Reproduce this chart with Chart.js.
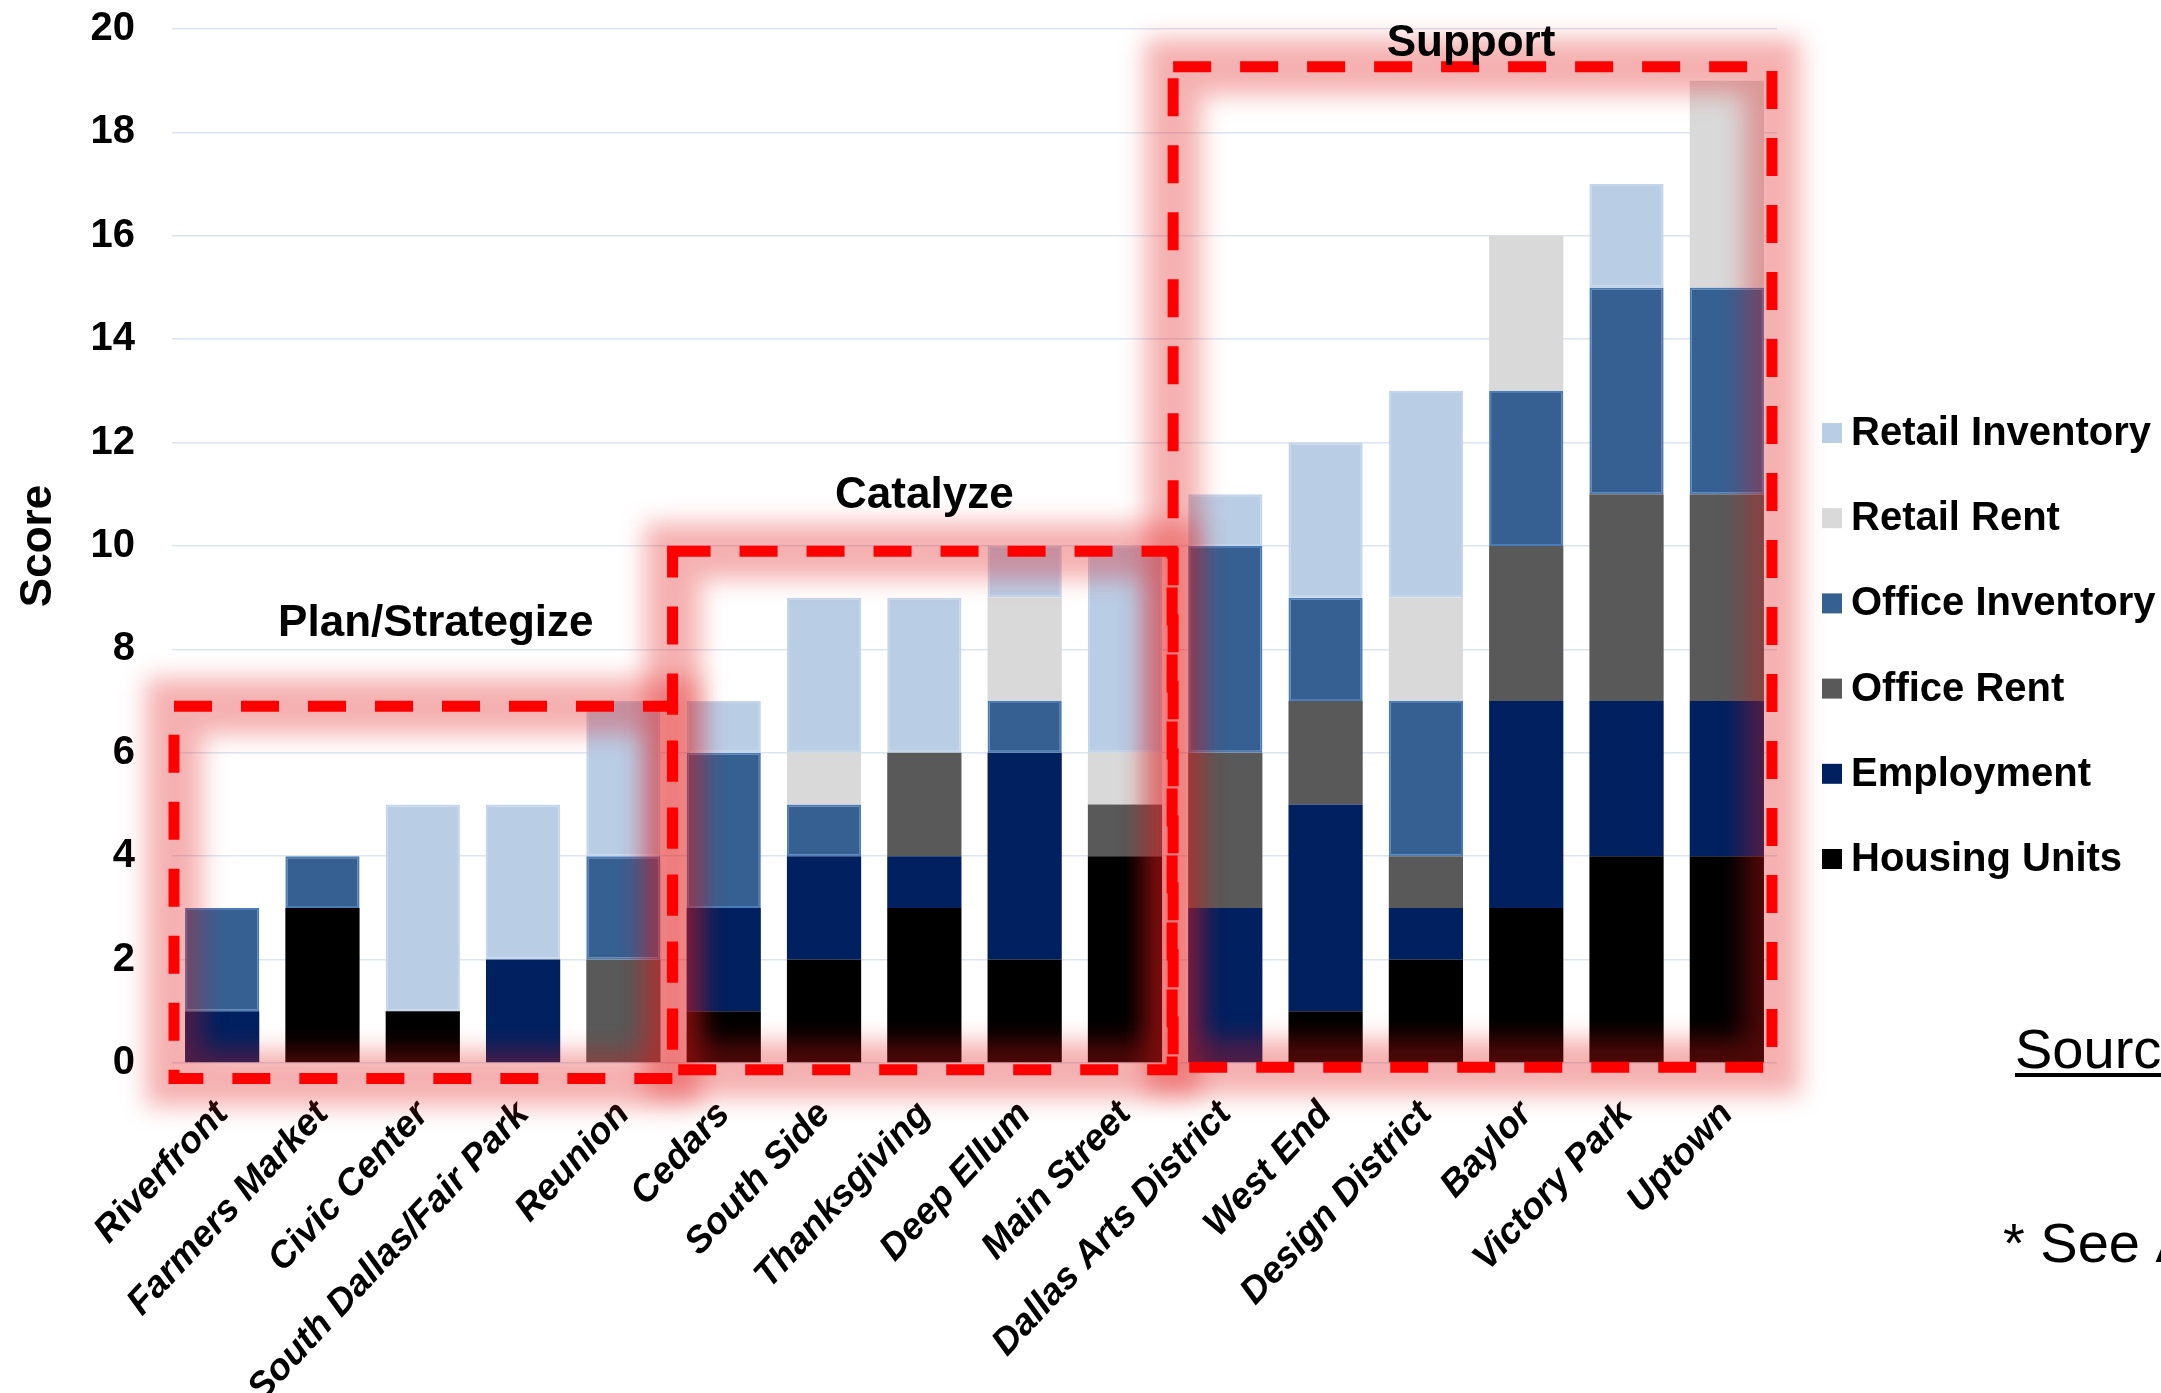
<!DOCTYPE html>
<html>
<head>
<meta charset="utf-8">
<title>District Scores</title>
<script src="https://cdn.jsdelivr.net/npm/chart.js@4/dist/chart.umd.min.js"></script>
<style>
  html, body { margin: 0; padding: 0; background: #fff; overflow: hidden; }
  #chart { display: block; }
</style>
</head>
<body>
<canvas id="chart" width="2161" height="1393"></canvas>
<script>
// District scores, stacked by indicator (bottom to top).
const districts = ['Riverfront', 'Farmers Market', 'Civic Center', 'South Dallas/Fair Park', 'Reunion',
  'Cedars', 'South Side', 'Thanksgiving', 'Deep Ellum', 'Main Street',
  'Dallas Arts District', 'West End', 'Design District', 'Baylor', 'Victory Park', 'Uptown'];
const housingUnits    = [0, 3, 1, 0, 0, 1, 2, 3, 2, 4, 0, 1, 2, 3, 4, 4];
const employment      = [1, 0, 0, 2, 0, 2, 2, 1, 4, 0, 3, 4, 1, 4, 3, 3];
const officeRent      = [0, 0, 0, 0, 2, 0, 0, 2, 0, 1, 3, 2, 1, 3, 4, 4];
const officeInventory = [2, 1, 0, 0, 2, 3, 1, 0, 1, 0, 4, 2, 3, 3, 4, 4];
const retailRent      = [0, 0, 0, 0, 0, 0, 1, 0, 2, 1, 0, 0, 2, 3, 0, 4];
const retailInventory = [0, 0, 4, 3, 3, 1, 3, 3, 1, 4, 1, 3, 4, 0, 2, 0];
const yTicks = [0, 2, 4, 6, 8, 10, 12, 14, 16, 18, 20];

// Strategy groups: first/last district index and the score the frame tops out at.
const groupNames = ['Plan/Strategize', 'Catalyze', 'Support'];
const groupFirst = [0, 5, 10];
const groupLast  = [4, 9, 15];
const groupTop   = [6.9, 9.9, 19.27];

const FONT = "'Liberation Sans', Arial, Helvetica, sans-serif";
Chart.defaults.font.family = FONT;
Chart.defaults.color = '#000';

const ds = (label, data, color, border) => ({
  label, data, backgroundColor: color, borderColor: border || color,
  borderWidth: border ? 2 : 0, borderSkipped: false,
  categoryPercentage: 1, barPercentage: 0.74,
});

// frame geometry in category / score units
const frames = [
  { l: groupFirst[0] - 0.48, r: groupLast[0] + 0.49, t: groupTop[0], b: -0.30, titleY: 8.5, titleX: 2.13 },
  { l: groupFirst[1] - 0.51, r: groupLast[1] + 0.47, t: groupTop[1], b: -0.13, titleY: 10.97, titleX: 7.0 },
  { l: groupFirst[2] - 0.52, r: groupLast[2] + 0.45, t: groupTop[2], b: -0.08, titleY: 19.72, titleX: 12.45 },
];

const groupFrames = {
  id: 'groupFrames',
  afterDatasetsDraw(chart) {
    const { ctx, scales: { x, y } } = chart;
    const x0 = x.getPixelForValue(0), step = x.getPixelForValue(1) - x0;
    const px = (i) => x0 + i * step;
    const rect = (f) => [px(f.l), y.getPixelForValue(f.t), px(f.r) - px(f.l), y.getPixelForValue(f.b) - y.getPixelForValue(f.t)];

    // soft red glow
    ctx.save();
    ctx.filter = 'blur(12px)';
    ctx.strokeStyle = 'rgba(226, 24, 24, 0.34)';
    ctx.lineWidth = 56;
    frames.forEach((f) => ctx.strokeRect(...rect(f)));
    ctx.restore();

    // dashed outline
    ctx.save();
    ctx.strokeStyle = '#FF0000';
    ctx.lineWidth = 11;
    ctx.setLineDash([38, 29]);
    frames.forEach((f) => ctx.strokeRect(...rect(f)));
    ctx.restore();

    // group titles
    ctx.save();
    ctx.fillStyle = '#000';
    ctx.font = `bold 44px ${FONT}`;
    ctx.textAlign = 'center';
    ctx.textBaseline = 'middle';
    frames.forEach((f, i) => ctx.fillText(groupNames[i], px(f.titleX), y.getPixelForValue(f.titleY)));
    ctx.restore();
  },
};

// legend on the right, top series first
const sideLegend = {
  id: 'sideLegend',
  afterDraw(chart) {
    const { ctx } = chart;
    const items = chart.data.datasets.slice().reverse();
    ctx.save();
    ctx.font = `bold 40px ${FONT}`;
    ctx.textBaseline = 'middle';
    items.forEach((d, i) => {
      const cy = 433 + i * 85.2;
      ctx.fillStyle = d.backgroundColor;
      ctx.fillRect(1822, cy - 10, 20, 20);
      ctx.fillStyle = '#000';
      ctx.fillText(d.label, 1851, cy + 1);
    });

    // source notes
    ctx.font = `56px ${FONT}`;
    ctx.textBaseline = 'alphabetic';
    ctx.fillText('Sources:', 2015, 1068);
    ctx.fillRect(2015, 1073, 200, 4);
    ctx.fillText('* See Appendix', 2003, 1262);
    ctx.restore();
  },
};

new Chart(document.getElementById('chart'), {
  type: 'bar',
  data: {
    labels: districts,
    datasets: [
      ds('Housing Units', housingUnits, '#000000'),
      ds('Employment', employment, '#002060'),
      ds('Office Rent', officeRent, '#595959'),
      ds('Office Inventory', officeInventory, '#376092', '#4A7CB8'),
      ds('Retail Rent', retailRent, '#D9D9D9'),
      ds('Retail Inventory', retailInventory, '#B9CDE5', '#C3D5EA'),
    ],
  },
  options: {
    responsive: false,
    animation: false,
    layout: { padding: { left: 0, right: 384, top: 29, bottom: 0 } },
    plugins: { legend: { display: false }, tooltip: { enabled: false } },
    scales: {
      x: {
        stacked: true,
        grid: { display: false },
        border: { display: false },
        ticks: { autoSkip: false, minRotation: 47, maxRotation: 47, padding: 22,
          font: { size: 37, weight: 'bold', style: 'italic' } },
        afterFit: (s) => { s.height = 330; },
      },
      y: {
        stacked: true,
        min: 0, max: 20,
        afterBuildTicks: (s) => { s.ticks = yTicks.map((v) => ({ value: v })); },
        // invisible tick marks hold the labels off the plot instead of ticks.padding,
        // which would also push the plot top down
        grid: { color: '#DCE5F1', lineWidth: 1.5, drawTicks: true, tickLength: 37, tickColor: 'rgba(0,0,0,0)' },
        border: { display: false },
        ticks: { padding: 0, font: { size: 40, weight: 'bold' } },
        title: { display: true, text: 'Score', font: { size: 44, weight: 'bold' }, padding: { top: 12, bottom: 0 } },
        afterFit: (s) => { s.width = 172; },
      },
    },
  },
  plugins: [groupFrames, sideLegend],
});
</script>
</body>
</html>
